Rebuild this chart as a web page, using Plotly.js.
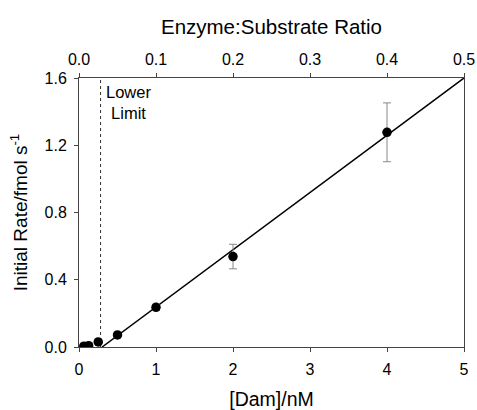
<!DOCTYPE html>
<html>
<head>
<meta charset="utf-8">
<script src="https://cdn.plot.ly/plotly-3.0.1.min.js"></script>
<style>html,body{margin:0;padding:0;background:#fff;}#chart{width:477px;height:410px;}</style>
</head>
<body>
<div id="chart"></div>
<script>
// Data
const damConc = [0.0625, 0.125, 0.25, 0.5, 1, 2, 4];          // [Dam]/nM
const initialRate = [0.005, 0.008, 0.03, 0.072, 0.236, 0.538, 1.277]; // fmol s^-1
const rateError = [0.003, 0.003, 0.005, 0.008, 0.018, 0.073, 0.175];
const fitX = [0.3, 5];
const fitY = [0, 1.6];
const lowerLimitX = [0.28, 0.28];
const lowerLimitY = [0, 1.6];
const ratioTicks = [0, 0.1, 0.2, 0.3, 0.4, 0.5];
const damTicks = [0, 1, 2, 3, 4, 5];
const rateTicks = [0, 0.4, 0.8, 1.2, 1.6];

const FONT = 'Liberation Sans, Arial, sans-serif';
const AX = '#444';

const traces = [
  {x: lowerLimitX, y: lowerLimitY, mode: 'lines', line: {color: '#333', width: 1, dash: 'dot'}, hoverinfo: 'skip', showlegend: false},
  {x: fitX, y: fitY, mode: 'lines', line: {color: '#000', width: 1.5}, hoverinfo: 'skip', showlegend: false},
  {x: damConc, y: initialRate, mode: 'markers', marker: {color: '#000', size: 9.5},
   error_y: {type: 'data', array: rateError, visible: true, color: '#888', thickness: 1, width: 4},
   showlegend: false},
  {x: ratioTicks, y: ratioTicks.map(() => 0), xaxis: 'x2', mode: 'markers', marker: {opacity: 0}, hoverinfo: 'skip', showlegend: false}
];

const layout = {
  width: 477, height: 410,
  margin: {l: 79, r: 13, t: 78, b: 63, pad: 0},
  paper_bgcolor: '#fff', plot_bgcolor: '#fff',
  font: {family: FONT, color: '#000', size: 16},
  xaxis: {
    range: [0, 5], tickvals: damTicks, ticktext: damTicks.map(String),
    showgrid: false, zeroline: false, showline: true, linecolor: AX, linewidth: 1,
    ticks: 'outside', ticklen: 4, tickcolor: AX, ticklabelstandoff: 4,
    tickfont: {size: 16, family: FONT},
    title: {text: '[Dam]/nM', font: {size: 19.5, family: FONT}, standoff: 24}
  },
  xaxis2: {
    range: [0, 0.5], overlaying: 'x', side: 'top', anchor: 'y',
    tickvals: ratioTicks, ticktext: ratioTicks.map(v => v.toFixed(1)),
    showgrid: false, zeroline: false, showline: true, linecolor: AX, linewidth: 1,
    ticks: 'outside', ticklen: 4, tickcolor: AX, ticklabelstandoff: 2,
    tickfont: {size: 16, family: FONT},
    title: {text: 'Enzyme:Substrate Ratio', font: {size: 20.5, family: FONT}, standoff: 10}
  },
  yaxis: {
    range: [0, 1.6], tickvals: rateTicks, ticktext: rateTicks.map(v => v.toFixed(1)),
    showgrid: false, zeroline: false, showline: true, mirror: true, linecolor: AX, linewidth: 1,
    ticks: 'outside', ticklen: 4, tickcolor: AX, ticklabelstandoff: 4,
    tickfont: {size: 16, family: FONT},
    title: {text: 'Initial Rate/fmol s<sup>-1</sup>', font: {size: 19, family: FONT}, standoff: 11}
  },
  annotations: [{
    x: 0.33, y: 1.58, xref: 'x', yref: 'y', xanchor: 'left', yanchor: 'top',
    text: 'Lower<br>Limit', showarrow: false, align: 'center',
    font: {size: 16.5, family: FONT, color: '#000'}
  }]
};

Plotly.newPlot('chart', traces, layout, {staticPlot: true, displayModeBar: false});
</script>
</body>
</html>
